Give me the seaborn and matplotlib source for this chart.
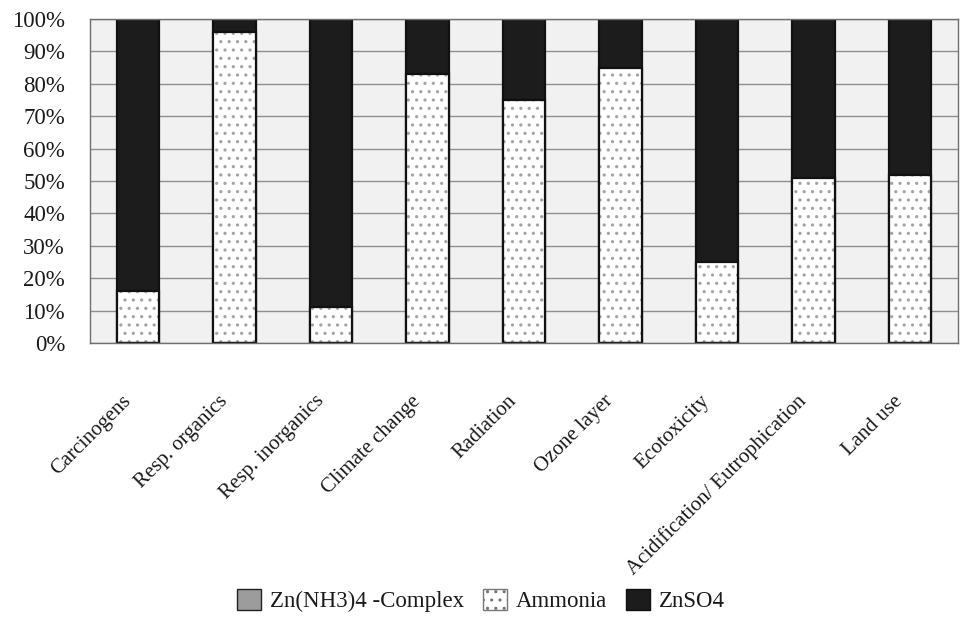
import matplotlib
matplotlib.use("Agg")
import matplotlib.pyplot as plt
import matplotlib.transforms as mtransforms
from matplotlib.patches import Patch
import pandas as pd
import seaborn as sns

# Impact categories and the share (%) of each contributor
categories = ["Carcinogens", "Resp. organics", "Resp. inorganics", "Climate change",
              "Radiation", "Ozone layer", "Ecotoxicity",
              "Acidification/ Eutrophication", "Land use"]
complex_share = [0, 0, 0, 0, 0, 0, 0, 0, 0]
ammonia_share = [16, 96, 11, 83, 75, 85, 25, 51, 52]
znso4_share = [84, 4, 89, 17, 25, 15, 75, 49, 48]
series_names = ["Zn(NH3)4 -Complex", "Ammonia", "ZnSO4"]
y_ticks = [0, 10, 20, 30, 40, 50, 60, 70, 80, 90, 100]
y_tick_labels = [f"{v}%" for v in y_ticks]

df = pd.DataFrame({"category": categories, "complex": complex_share,
                   "ammonia": ammonia_share, "znso4": znso4_share})
# cumulative tops for the stacked columns
df["top_complex"] = df["complex"]
df["top_ammonia"] = df["top_complex"] + df["ammonia"]
df["top_znso4"] = df["top_ammonia"] + df["znso4"]

sns.set_theme(style="white")
plt.rcParams["font.family"] = ["Liberation Serif", "DejaVu Serif"]
plt.rcParams["hatch.linewidth"] = 1.1

TEXT = "#1a1a1a"
DARK = "#1c1c1c"
W, H = 962, 619
fig = plt.figure(figsize=(W / 100, H / 100), dpi=100)
ax = fig.add_axes([90 / W, 1 - 343 / H, 868 / W, (343 - 19) / H])
ax.set_facecolor("#f1f1f1")
ax.set_axisbelow(True)
ax.yaxis.grid(True, color="#8f8f8f", linewidth=1.0)

bw = 0.44
# ZnSO4 occupies the full column; lower segments are drawn over it
sns.barplot(data=df, x="category", y="top_znso4", color=DARK, width=bw,
            saturation=1, errorbar=None, edgecolor="#111111", linewidth=1.6, ax=ax)
# Ammonia segment: white with a light dot pattern
sns.barplot(data=df, x="category", y="top_ammonia", color="white", width=bw,
            saturation=1, errorbar=None, edgecolor="#a3a3a3", linewidth=0,
            hatch="..", ax=ax)
# outline of the ammonia segment
sns.barplot(data=df, x="category", y="top_ammonia", color="#111111", width=bw,
            saturation=1, errorbar=None, fill=False, linewidth=1.6, ax=ax)
# Zn(NH3)4 complex segment
sns.barplot(data=df, x="category", y="top_complex", color="#9c9c9c", width=bw,
            saturation=1, errorbar=None, edgecolor="#111111", linewidth=1.6, ax=ax)

ax.set_xlim(-0.5, len(categories) - 0.5)
ax.set_ylim(0, 100)
ax.set_xlabel("")
ax.set_ylabel("")
ax.set_yticks(y_ticks, y_tick_labels)
ax.tick_params(axis="y", length=0, pad=18, labelsize=16.5, labelcolor=TEXT)
ax.tick_params(axis="x", length=0, pad=40, labelsize=15, labelcolor=TEXT)

shift = mtransforms.ScaledTranslation(-10 / 100, 0, fig.dpi_scale_trans)
for lab in ax.get_xticklabels():
    lab.set_rotation(45)
    lab.set_ha("right")
    lab.set_va("center")
    lab.set_rotation_mode("anchor")
    lab.set_transform(lab.get_transform() + shift)

for s in ax.spines.values():
    s.set_visible(True)
    s.set_color("#6f6f6f")
    s.set_linewidth(1.0)

handles = [Patch(facecolor="#9c9c9c", edgecolor="#222222"),
           Patch(facecolor="white", edgecolor="#777777", hatch=".."),
           Patch(facecolor=DARK, edgecolor="#111111")]
fig.legend(handles, series_names, loc="lower center", bbox_to_anchor=(0.5, -0.022),
           ncol=3, frameon=False, fontsize=16.5, handlelength=1.05, handleheight=1.05,
           handletextpad=0.4, columnspacing=0.8, labelcolor=TEXT)

fig.savefig("out.png", dpi=100, facecolor="white")
